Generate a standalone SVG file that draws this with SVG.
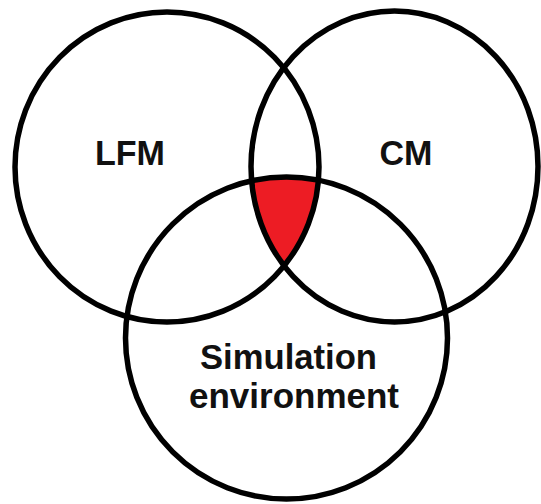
<svg xmlns="http://www.w3.org/2000/svg" width="541" height="504" viewBox="0 0 541 504">
  <style>
    .ring { fill: none; stroke: #000; stroke-width: 5.5; }
    .label { font-family: "Liberation Sans", Arial, sans-serif; font-weight: bold; font-size: 35px; fill: #111; text-anchor: middle; }
  </style>
  <defs>
    <clipPath id="clip-cm">
      <ellipse cx="394.5" cy="166.5" rx="143.5" ry="155.5"/>
    </clipPath>
    <clipPath id="clip-sim">
      <circle cx="286.5" cy="338" r="161"/>
    </clipPath>
  </defs>
  <rect width="541" height="504" fill="#fff"/>

  <!-- common region of all three sets -->
  <g id="overlap">
    <g clip-path="url(#clip-sim)">
      <ellipse cx="167" cy="167" rx="152" ry="155" fill="#ed1c24" clip-path="url(#clip-cm)"/>
    </g>
  </g>

  <g id="lfm">
    <ellipse class="ring" cx="167" cy="167" rx="152" ry="155"/>
    <text class="label" x="130" y="165" textLength="70" lengthAdjust="spacingAndGlyphs">LFM</text>
  </g>

  <g id="cm">
    <ellipse class="ring" cx="394.5" cy="166.5" rx="143.5" ry="155.5"/>
    <text class="label" x="406" y="165" textLength="53" lengthAdjust="spacingAndGlyphs">CM</text>
  </g>

  <g id="simulation">
    <circle class="ring" cx="286.5" cy="338" r="161"/>
    <text class="label" x="288.5" y="369" textLength="177" lengthAdjust="spacingAndGlyphs">Simulation</text>
    <text class="label" x="294" y="408" textLength="210" lengthAdjust="spacingAndGlyphs">environment</text>
  </g>
</svg>
